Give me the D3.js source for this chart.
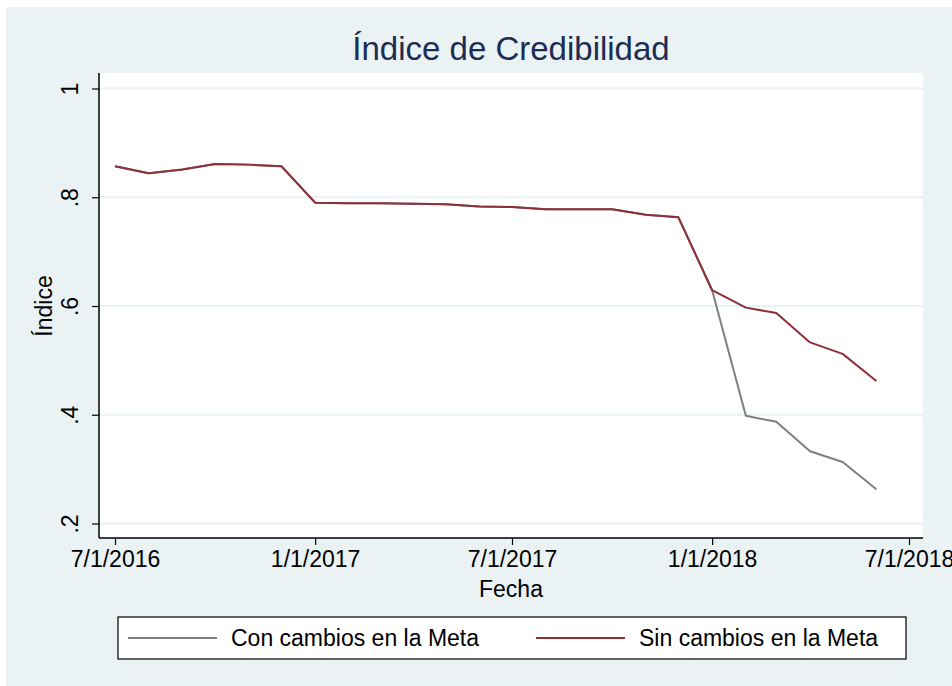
<!DOCTYPE html>
<meta charset="utf-8">
<style>
body { margin: 0; background: #fff; }
text { font-family: "Liberation Sans", Arial, Helvetica, sans-serif; fill: #000; }
</style>
<body>
<svg width="952" height="686"></svg>
</body>
<script src="https://d3js.org/d3.v7.min.js"></script>
<script>

var months = ["2016-07-01","2016-08-01","2016-09-01","2016-10-01","2016-11-01","2016-12-01",
              "2017-01-01","2017-02-01","2017-03-01","2017-04-01","2017-05-01","2017-06-01",
              "2017-07-01","2017-08-01","2017-09-01","2017-10-01","2017-11-01","2017-12-01",
              "2018-01-01","2018-02-01","2018-03-01","2018-04-01","2018-05-01","2018-06-01"];

var sinCambios = [0.857, 0.844, 0.851, 0.861, 0.860, 0.857,
                  0.790, 0.789, 0.789, 0.788, 0.787, 0.783,
                  0.782, 0.778, 0.778, 0.778, 0.768, 0.763,
                  0.629, 0.597, 0.587, 0.533, 0.512, 0.462];

var conCambios = [0.857, 0.844, 0.851, 0.861, 0.860, 0.857,
                  0.790, 0.789, 0.789, 0.788, 0.787, 0.783,
                  0.782, 0.778, 0.778, 0.778, 0.768, 0.763,
                  0.629, 0.398, 0.387, 0.333, 0.313, 0.263];

var xTicks = ["2016-07-01","2017-01-01","2017-07-01","2018-01-01","2018-07-01"];
var yTicks = [0.2, 0.4, 0.6, 0.8, 1];
var seriesNames = ["Con cambios en la Meta", "Sin cambios en la Meta"];
var seriesColors = ["#7f7f7f", "#8f2f38"];

var parse = d3.timeParse("%Y-%m-%d"),
    fmt = d3.timeFormat("%-m/%-d/%Y");

var svg = d3.select("svg"),
    plot = {left: 99, right: 923, top: 73, bottom: 538};

var x = d3.scaleTime()
    .domain([parse("2016-07-01"), parse("2018-07-01")])
    .range([115, 909]);

var y = d3.scaleLinear()
    .domain([0.2, 1])
    .range([523.5, 88.5]);

// backgrounds
svg.append("rect")
    .attr("x", 6).attr("y", 7)
    .attr("width", 946).attr("height", 679)
    .attr("fill", "#eaf2f3");

svg.append("rect")
    .attr("x", plot.left).attr("y", plot.top)
    .attr("width", plot.right - plot.left).attr("height", plot.bottom - plot.top)
    .attr("fill", "#fff");

// grid
svg.append("g").selectAll("line")
  .data(yTicks)
  .enter().append("line")
    .attr("x1", plot.left).attr("x2", plot.right)
    .attr("y1", y).attr("y2", y)
    .attr("stroke", "#eaf2f3")
    .attr("stroke-width", 2);

// lines
var line = d3.line()
    .x(function(d, i) { return x(parse(months[i])); })
    .y(function(d) { return y(d); });

[conCambios, sinCambios].forEach(function(s, i) {
  svg.append("path")
      .datum(s)
      .attr("d", line)
      .attr("fill", "none")
      .attr("stroke", seriesColors[i])
      .attr("stroke-width", 2)
      .attr("stroke-linejoin", "round");
});

// axes
var xAxis = svg.append("g")
    .attr("transform", "translate(0," + plot.bottom + ")")
    .call(d3.axisBottom(x)
      .tickValues(xTicks.map(parse))
      .tickFormat(fmt)
      .tickSize(7)
      .tickPadding(6));
xAxis.select(".domain").attr("d", "M" + plot.left + ",0H" + plot.right)
    .attr("stroke", "#000").attr("stroke-width", 1.5);
xAxis.selectAll(".tick line").attr("stroke", "#000").attr("stroke-width", 1.2);
xAxis.selectAll(".tick text")
    .attr("font-size", 23)
    .attr("font-family", "Liberation Sans, Arial, sans-serif")
    .attr("fill", "#000");

var yAxis = svg.append("g")
    .attr("transform", "translate(" + plot.left + ",0)")
    .call(d3.axisLeft(y)
      .tickValues(yTicks)
      .tickFormat(function(d) { return d === 1 ? "1" : d3.format(".1f")(d).replace(/^0/, ""); })
      .tickSize(7));
yAxis.select(".domain").attr("d", "M0," + plot.top + "V" + plot.bottom)
    .attr("stroke", "#000").attr("stroke-width", 1.5);
yAxis.selectAll(".tick line").attr("stroke", "#000").attr("stroke-width", 1.2);
yAxis.selectAll(".tick text")
    .attr("x", null).attr("dy", null)
    .attr("transform", "translate(-21,0) rotate(-90)")
    .attr("text-anchor", "middle")
    .attr("font-size", 23)
    .attr("font-family", "Liberation Sans, Arial, sans-serif")
    .attr("fill", "#000");

// titles
svg.append("text")
    .attr("x", 511).attr("y", 60)
    .attr("text-anchor", "middle")
    .attr("font-size", 33)
    .style("fill", "#1c2c54")
    .text("Índice de Credibilidad");

svg.append("text")
    .attr("x", 511).attr("y", 597)
    .attr("text-anchor", "middle")
    .attr("font-size", 23)
    .text("Fecha");

svg.append("text")
    .attr("transform", "translate(52,306) rotate(-90)")
    .attr("text-anchor", "middle")
    .attr("font-size", 23)
    .text("Índice");

// legend
var legend = svg.append("g");
legend.append("rect")
    .attr("x", 118).attr("y", 617)
    .attr("width", 788).attr("height", 42)
    .attr("fill", "#fff")
    .attr("stroke", "#000")
    .attr("stroke-width", 1.2);

var legX = [128, 536];
seriesNames.forEach(function(n, i) {
  legend.append("line")
      .attr("x1", legX[i]).attr("x2", legX[i] + 89)
      .attr("y1", 638).attr("y2", 638)
      .attr("stroke", seriesColors[i])
      .attr("stroke-width", 2);
  legend.append("text")
      .attr("x", legX[i] + 103).attr("y", 646)
      .attr("font-size", 23)
      .text(n);
});

</script>
